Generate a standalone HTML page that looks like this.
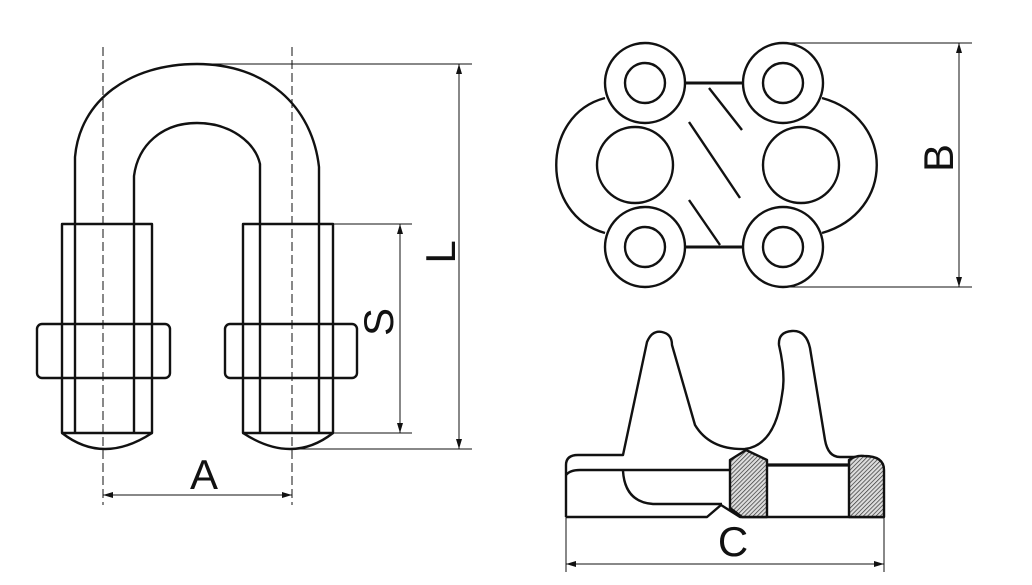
<!DOCTYPE html>
<html><head><meta charset="utf-8"><style>
html,body{margin:0;padding:0;background:#fff;}
svg{display:block;}
text{font-family:"Liberation Sans",sans-serif;font-size:42px;fill:#111;}
</style></head><body>
<svg width="1032" height="585" viewBox="0 0 1032 585" xmlns="http://www.w3.org/2000/svg">
<defs>
<pattern id="h" width="3" height="3" patternUnits="userSpaceOnUse" patternTransform="rotate(45)">
<rect width="3" height="3" fill="#ddd"/><line x1="0" y1="0" x2="0" y2="3" stroke="#333" stroke-width="1.4"/>
</pattern>
<marker id="ar" viewBox="0 0 10 6" refX="10" refY="3" markerWidth="10" markerHeight="6" orient="auto-start-reverse" markerUnits="userSpaceOnUse">
<path d="M0,0 L10,3 L0,6 Z" fill="#111"/></marker>
</defs>
<g fill="none" stroke="#111" stroke-width="2.4" stroke-linejoin="round">
<!-- U bolt -->
<path d="M75,224 V157 C80,100 130,64 197,64 C265,64 312,105 319,167 V224"/>
<path d="M134,224 V176 C138,145 162,123 197,123 C230,123 255,142 260,164 V224"/>
<rect x="62" y="224" width="90" height="209"/>
<rect x="243" y="224" width="90" height="209"/>
<line x1="75" y1="224" x2="75" y2="433"/><line x1="134" y1="224" x2="134" y2="433"/>
<line x1="260" y1="224" x2="260" y2="433"/><line x1="319" y1="224" x2="319" y2="433"/>
<rect x="37" y="324" width="133" height="54" rx="5" fill="#fff"/>
<rect x="225" y="324" width="132" height="54" rx="5" fill="#fff"/>
<line x1="75" y1="324" x2="75" y2="378"/><line x1="134" y1="324" x2="134" y2="378"/>
<line x1="62" y1="324" x2="62" y2="378"/><line x1="152" y1="324" x2="152" y2="378"/>
<line x1="260" y1="324" x2="260" y2="378"/><line x1="319" y1="324" x2="319" y2="378"/>
<line x1="243" y1="324" x2="243" y2="378"/><line x1="333" y1="324" x2="333" y2="378"/>
<path d="M62,433 Q103,465 152,433"/>
<path d="M243,433 Q292,465 333,433"/>
<!-- top view -->
<path d="M605,98 C540,115 540,215 605,233"/>
<path d="M822,98 C895,118 895,212 822,233"/>
<circle cx="645" cy="83" r="40"/><circle cx="645" cy="83" r="20"/>
<circle cx="783" cy="83" r="40"/><circle cx="783" cy="83" r="20"/>
<circle cx="645" cy="247" r="40"/><circle cx="645" cy="247" r="20"/>
<circle cx="783" cy="247" r="40"/><circle cx="783" cy="247" r="20"/>
<circle cx="635" cy="165" r="38"/><circle cx="801" cy="165" r="38"/>
<line x1="685" y1="83" x2="743" y2="83" stroke-width="3"/>
<line x1="685" y1="247" x2="743" y2="247" stroke-width="3"/>
<line x1="709" y1="88" x2="742" y2="130"/>
<line x1="689" y1="122" x2="740" y2="198"/>
<line x1="689" y1="200" x2="720" y2="245"/>
<!-- side view -->
<path d="M566,517 V465 Q566,455 578,455 H623 L647,342 Q652,330 662,332 Q672,334 672,345 L695,425 Q710,450 745,449 Q775,445 782,395 Q786,375 779,345 Q778,332 792,331 Q806,330 810,348 L825,440 Q828,457 840,457 H862"/>
<path d="M566,475 Q570,470 580,470 H730"/>
<path d="M623,471 Q625,502 653,504 H722"/>
<path d="M566,517 H707 L721,505 L740,517 H884"/>
<line x1="767" y1="465" x2="849" y2="465" stroke-width="3.2"/>
<path d="M730,460 L746,450 L767,460 V517 H742 L730,508 Z" fill="url(#h)"/>
<path d="M849,460 Q856,455 864,456 Q884,456 884,470 V517 H849 Z" fill="url(#h)"/>
</g>
<!-- centerlines -->
<g stroke="#111" stroke-width="1" stroke-dasharray="9,4">
<line x1="103" y1="47" x2="103" y2="505"/><line x1="292" y1="47" x2="292" y2="505"/>
</g>
<!-- dimensions -->
<g stroke="#111" stroke-width="1" fill="none">
<line x1="197" y1="64" x2="472" y2="64"/><line x1="292" y1="449" x2="472" y2="449"/>
<line x1="459" y1="64" x2="459" y2="449" marker-start="url(#ar)" marker-end="url(#ar)"/>
<line x1="333" y1="224" x2="412" y2="224"/><line x1="333" y1="433" x2="412" y2="433"/>
<line x1="400" y1="224" x2="400" y2="433" marker-start="url(#ar)" marker-end="url(#ar)"/>
<line x1="103" y1="495" x2="292" y2="495" marker-start="url(#ar)" marker-end="url(#ar)"/>
<line x1="790" y1="43" x2="972" y2="43"/><line x1="790" y1="287" x2="972" y2="287"/>
<line x1="959" y1="43" x2="959" y2="287" marker-start="url(#ar)" marker-end="url(#ar)"/>
<line x1="566" y1="517" x2="566" y2="572"/><line x1="884" y1="517" x2="884" y2="572"/>
<line x1="566" y1="564" x2="884" y2="564" marker-start="url(#ar)" marker-end="url(#ar)"/>
</g>
<text x="204" y="489" text-anchor="middle">A</text>
<text x="733" y="556" text-anchor="middle">C</text>
<text transform="translate(455,252) rotate(-90)" text-anchor="middle">L</text>
<text transform="translate(393,322) rotate(-90)" text-anchor="middle">S</text>
<text transform="translate(953,158) rotate(-90)" text-anchor="middle">B</text>
</svg>
</body></html>
